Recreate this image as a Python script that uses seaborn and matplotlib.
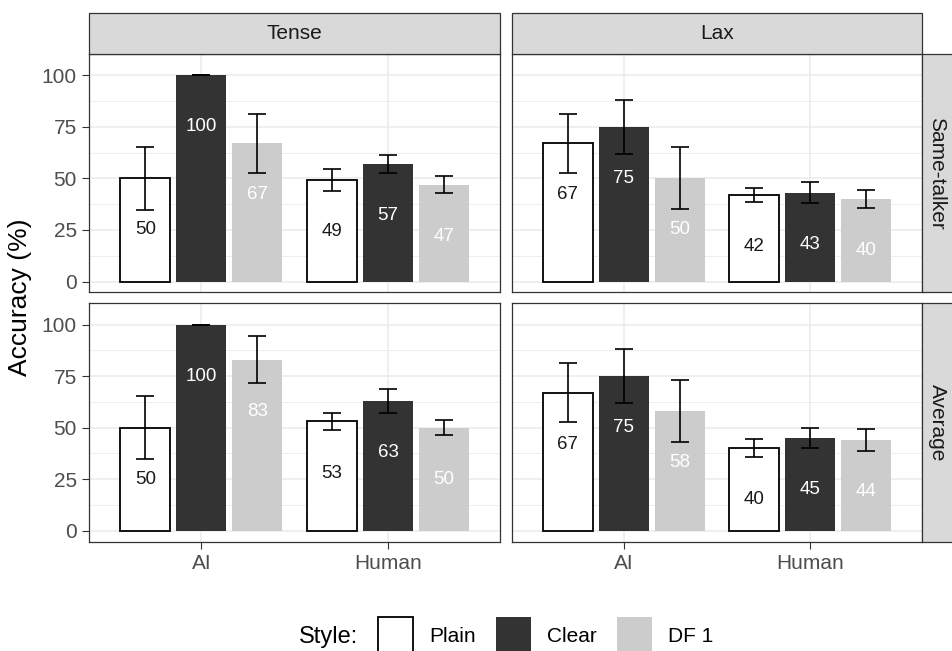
import numpy as np
import pandas as pd
import matplotlib
matplotlib.use("Agg")
import matplotlib.pyplot as plt
from matplotlib.patches import Rectangle
import seaborn as sns

# ---- data -----------------------------------------------------------------
styles = ["Plain", "Clear", "DF 1"]
talkers = ["AI", "Human"]
vowels = ["Tense", "Lax"]
conditions = ["Same-talker", "Average"]

# mean accuracy (%) per talker, in style order Plain / Clear / DF 1
same_tense_ai = [50, 100, 67]
same_tense_human = [49, 57, 47]
same_lax_ai = [67, 75, 50]
same_lax_human = [42, 43, 40]
avg_tense_ai = [50, 100, 83]
avg_tense_human = [53, 63, 50]
avg_lax_ai = [67, 75, 58]
avg_lax_human = [40, 45, 44]

# standard errors (%)
se_same_tense_ai = [15.2, 0.0, 14.4]
se_same_tense_human = [5.3, 4.3, 4.3]
se_same_lax_ai = [14.4, 13.0, 15.0]
se_same_lax_human = [3.5, 5.0, 4.3]
se_avg_tense_ai = [15.2, 0.0, 11.4]
se_avg_tense_human = [3.9, 5.7, 3.5]
se_avg_lax_ai = [14.4, 13.0, 15.0]
se_avg_lax_human = [4.3, 5.0, 5.2]

cells = {
    ("Same-talker", "Tense"): (same_tense_ai, same_tense_human, se_same_tense_ai, se_same_tense_human),
    ("Same-talker", "Lax"): (same_lax_ai, same_lax_human, se_same_lax_ai, se_same_lax_human),
    ("Average", "Tense"): (avg_tense_ai, avg_tense_human, se_avg_tense_ai, se_avg_tense_human),
    ("Average", "Lax"): (avg_lax_ai, avg_lax_human, se_avg_lax_ai, se_avg_lax_human),
}

rows = []
for (cond, vow), (ai, hu, se_ai, se_hu) in cells.items():
    for talker, vals, ses in (("AI", ai, se_ai), ("Human", hu, se_hu)):
        for st, v, s in zip(styles, vals, ses):
            rows.append(dict(condition=cond, vowel=vow, talker=talker,
                             style=st, accuracy=v, se=s))
df = pd.DataFrame(rows)

fill = {"Plain": "#ffffff", "Clear": "#333333", "DF 1": "#cccccc"}
edge = {"Plain": "#000000", "Clear": "none", "DF 1": "none"}
label_color = {"Plain": "#1a1a1a", "Clear": "#ffffff", "DF 1": "#ffffff"}

# ---- style ------------------------------------------------------------------
sns.set_theme(style="white")
plt.rcParams["font.family"] = ["Liberation Sans", "DejaVu Sans"]

W, H = 953, 651
fig, axes = plt.subplots(2, 2, figsize=(W / 100, H / 100), dpi=100,
                         sharex=True, sharey=True)
fig.patch.set_facecolor("white")

left, right, top, bottom = 89.3, 922.3, 54.0, 541.7
gap_x, gap_y = 11.7, 11.0
pw = (right - left - gap_x) / 2
ph = (bottom - top - gap_y) / 2
fig.subplots_adjust(left=left / W, right=right / W, top=1 - top / H,
                    bottom=1 - bottom / H, wspace=gap_x / pw, hspace=gap_y / ph)

strip_h = 40.7
strip_w = 41.0
frame = "#333333"

for i, cond in enumerate(conditions):
    for j, vow in enumerate(vowels):
        ax = axes[i, j]
        sub = df[(df.condition == cond) & (df.vowel == vow)]
        sns.barplot(data=sub, x="talker", y="accuracy", hue="style",
                    order=talkers, hue_order=styles, palette=fill,
                    width=0.9, gap=0.11, errorbar=None, saturation=1,
                    legend=False, ax=ax, zorder=2)

        for st, cont in zip(styles, ax.containers):
            sdf = sub[sub["style"] == st].set_index("talker")
            for bar in cont:
                bar.set_edgecolor(edge[st])
                bar.set_linewidth(1.3 if st == "Plain" else 0)
                xc = bar.get_x() + bar.get_width() / 2
                talker = talkers[int(round(xc))]
                val = sdf.loc[talker, "accuracy"]
                se = sdf.loc[talker, "se"]
                ax.errorbar(xc, val, yerr=se, fmt="none", ecolor="black",
                            elinewidth=1.2, capsize=6.5, capthick=1.2, zorder=4)
                ax.text(xc, val - 25, f"{val:g}", ha="center", va="center",
                        fontsize=13.5, color=label_color[st], zorder=5)

        ax.set_xlim(-0.6, 1.6)
        ax.set_ylim(-5.25, 110.25)
        ax.set_yticks([0, 25, 50, 75, 100])
        ax.set_yticks([12.5, 37.5, 62.5, 87.5], minor=True)
        ax.grid(True, which="major", color="#ebebeb", lw=1.1, zorder=0)
        ax.grid(True, which="minor", axis="y", color="#ebebeb", lw=0.6, zorder=0)
        ax.set_axisbelow(True)
        ax.set_xlabel("")
        ax.set_ylabel("")
        for sp in ax.spines.values():
            sp.set_color(frame)
            sp.set_linewidth(0.9)
            sp.set_visible(True)
        ax.tick_params(axis="both", which="major", length=5, width=0.8,
                       color=frame, labelcolor="#4d4d4d", labelsize=15, pad=4,
                       left=(j == 0), bottom=(i == 1),
                       labelleft=(j == 0), labelbottom=(i == 1))
        ax.tick_params(axis="both", which="minor", length=0)

        # facet strips
        if i == 0:
            ax.add_patch(Rectangle((0, 1), 1, strip_h / ph, transform=ax.transAxes,
                                   facecolor="#d9d9d9", edgecolor=frame, lw=0.9,
                                   clip_on=False, zorder=3))
            ax.text(0.5, 1 + (strip_h / 2) / ph, vow, transform=ax.transAxes,
                    ha="center", va="center", fontsize=15, color="#1a1a1a")
        if j == 1:
            ax.add_patch(Rectangle((1, 0), strip_w / pw, 1, transform=ax.transAxes,
                                   facecolor="#d9d9d9", edgecolor=frame, lw=0.9,
                                   clip_on=False, zorder=3))
            ax.text(1 + (937 - right) / pw, 0.5, cond, transform=ax.transAxes,
                    ha="center", va="center", rotation=270, fontsize=15,
                    color="#1a1a1a")

fig.text(20 / W, 1 - 297 / H, "Accuracy (%)", rotation=90, ha="center",
         va="center", fontsize=19, color="black")

# ---- legend -------------------------------------------------------------------
key_y = 617
key_size = 35
fig.text(358 / W, 1 - 637 / H, "Style:", ha="right", va="center",
         fontsize=17, color="black")
key_x = {"Plain": 378, "Clear": 496, "DF 1": 617}
for st in styles:
    fig.add_artist(Rectangle((key_x[st] / W, 1 - (key_y + key_size) / H),
                             key_size / W, key_size / H, transform=fig.transFigure,
                             facecolor=fill[st], edgecolor=edge[st],
                             lw=1.3 if st == "Plain" else 0))
    fig.text((key_x[st] + key_size + 16) / W, 1 - 637 / H, st, ha="left",
             va="center", fontsize=15, color="black")

fig.savefig("out.png", dpi=100)
